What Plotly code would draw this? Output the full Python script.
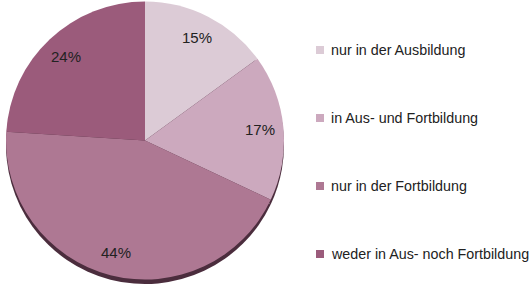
import math
import plotly.graph_objects as go

categories = ["nur in der Ausbildung", "in Aus- und Fortbildung", "nur in der Fortbildung", "weder in Aus- noch Fortbildung"]
values = [15, 17, 44, 24]
colors = ["#dccbd6", "#cca9be", "#ae7893", "#9b5b7b"]

W, H = 530, 290
cx, cy, r = 145, 140.5, 139

def dom(cx, cy, r):
    clamp = lambda v: min(1.0, max(0.0, v))
    return dict(x=[clamp((cx - r) / W), clamp((cx + r) / W)],
                y=[clamp(1 - (cy + r) / H), clamp(1 - (cy - r) / H)])

fig = go.Figure()
fig.add_trace(go.Pie(values=values, labels=categories, sort=False, direction="clockwise", rotation=0,
                     marker=dict(colors=["#4b2d3d"] * 4, line=dict(width=0)),
                     textinfo="none", hoverinfo="skip", showlegend=False,
                     domain=dom(cx, cy + 4.5, r)))
fig.add_trace(go.Pie(values=values, labels=categories, sort=False, direction="clockwise", rotation=0,
                     marker=dict(colors=colors, line=dict(width=0)),
                     textinfo="none", showlegend=False, domain=dom(cx, cy, r)))

font = dict(family="Liberation Sans, Arial", size=15, color="#222222")
total = sum(values)
cum = 0
for v in values:
    mid = (cum + v / 2) / total * 2 * math.pi
    cum += v
    px = cx + 0.83 * r * math.sin(mid)
    py = cy - 0.83 * r * math.cos(mid)
    fig.add_annotation(x=px / W, y=1 - py / H, xref="paper", yref="paper", text=f"{v}%",
                       xanchor="center", yanchor="middle", showarrow=False, font=font)

# legend (drawn manually for exact spacing)
leg_y0, leg_dy = 50, 68
for i, (c, col) in enumerate(zip(categories, colors)):
    yc = leg_y0 + i * leg_dy
    fig.add_shape(type="rect", xref="paper", yref="paper",
                  x0=316 / W, x1=324 / W, y0=1 - (yc + 4) / H, y1=1 - (yc - 4) / H,
                  fillcolor=col, line=dict(width=0))
    fig.add_annotation(x=329 / W, y=1 - yc / H, xref="paper", yref="paper", text=c,
                       xanchor="left", yanchor="middle", showarrow=False,
                       font=dict(family="Liberation Sans, Arial", size=14.3, color="#222222"))

fig.update_layout(
    width=W, height=H, margin=dict(l=0, r=0, t=0, b=0),
    paper_bgcolor="white", plot_bgcolor="white", showlegend=False,
)
fig.write_html("out.html")
